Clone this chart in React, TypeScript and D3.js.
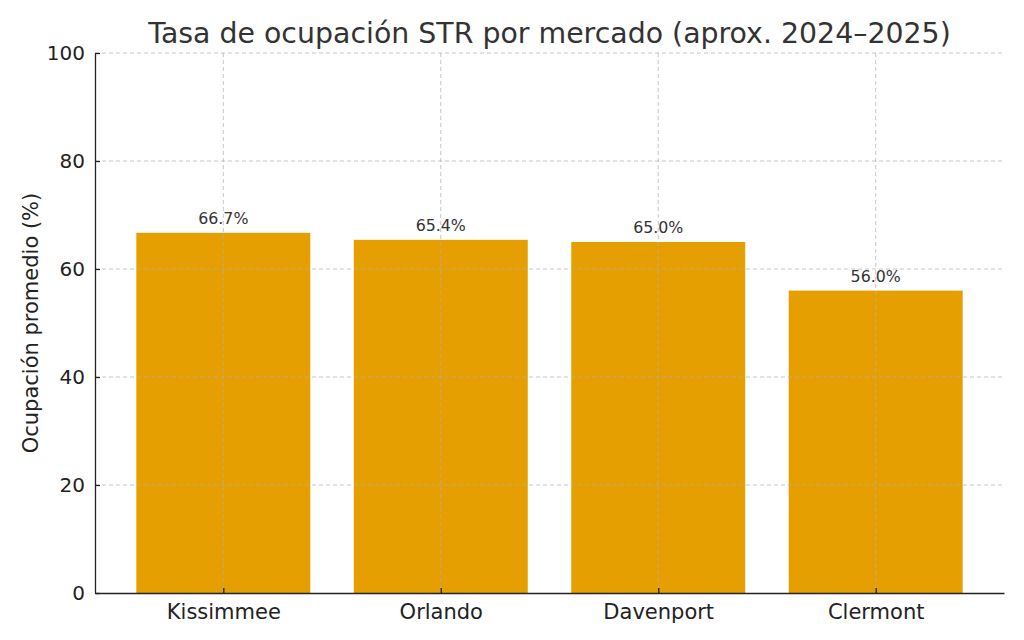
import { useEffect, useRef } from 'react';
import * as d3 from 'd3';

const markets = ['Kissimmee', 'Orlando', 'Davenport', 'Clermont'];
const occupancy = [66.7, 65.4, 65.0, 56.0];
const yTicks = [0, 20, 40, 60, 80, 100];

const W = 1024;
const H = 640;
const FONT = 'DejaVu Sans, sans-serif';

export default function App() {
  const svgRef = useRef<SVGSVGElement>(null);

  useEffect(() => {
    if (!svgRef.current) return;
    const svg = d3.select(svgRef.current);
    svg.selectAll('*').remove();

    const margin = { top: 53, right: 20, bottom: 47, left: 95 };
    const innerW = W - margin.left - margin.right;
    const innerH = H - margin.top - margin.bottom;

    const g = svg
      .append('g')
      .attr('transform', `translate(${margin.left},${margin.top})`);

    // matplotlib-like linear x: bars width 0.8, 5% margins
    const x = d3.scaleLinear().domain([-0.59, markets.length - 1 + 0.59]).range([0, innerW]);
    const y = d3.scaleLinear().domain([0, 100]).range([innerH, 0]);
    const bw = x(0.8) - x(0);

    // bars
    g.selectAll('rect.bar')
      .data(occupancy)
      .join('rect')
      .attr('class', 'bar')
      .attr('x', (_, i) => x(i - 0.4))
      .attr('y', (d) => y(d))
      .attr('width', bw)
      .attr('height', (d) => innerH - y(d))
      .attr('fill', '#E69F00');

    // grid (drawn on top, like the reference)
    g.selectAll('line.hgrid')
      .data(yTicks.slice(1))
      .join('line')
      .attr('x1', 0)
      .attr('x2', innerW)
      .attr('y1', (d) => y(d))
      .attr('y2', (d) => y(d))
      .attr('stroke', '#b0b0b0')
      .attr('stroke-opacity', 0.8)
      .attr('stroke-dasharray', '4,3')
      .attr('stroke-width', 0.9);

    g.selectAll('line.vgrid')
      .data(markets)
      .join('line')
      .attr('x1', (_, i) => x(i))
      .attr('x2', (_, i) => x(i))
      .attr('y1', 0)
      .attr('y2', innerH)
      .attr('stroke', '#b0b0b0')
      .attr('stroke-opacity', 0.8)
      .attr('stroke-dasharray', '4,3')
      .attr('stroke-width', 0.9);

    // value labels
    g.selectAll('text.val')
      .data(occupancy)
      .join('text')
      .attr('class', 'val')
      .attr('x', (_, i) => x(i))
      .attr('y', (d) => y(d) - 9)
      .attr('text-anchor', 'middle')
      .attr('font-family', FONT)
      .attr('font-size', 15.8)
      .attr('fill', '#333')
      .text((d) => `${d.toFixed(1)}%`);

    // y axis
    const yAxis = g
      .append('g')
      .call(
        d3
          .axisLeft(y)
          .tickValues(yTicks)
          .tickSizeInner(-5)
          .tickSizeOuter(0)
          .tickPadding(10)
      );
    yAxis.select('.domain').attr('stroke', '#222').attr('stroke-width', 1.3);
    yAxis.selectAll('.tick line').attr('stroke', '#222').attr('stroke-width', 1.3);
    yAxis
      .selectAll('text')
      .attr('font-family', FONT)
      .attr('font-size', 20)
      .attr('fill', '#222');

    // x axis
    const xAxis = g
      .append('g')
      .attr('transform', `translate(0,${innerH})`)
      .call(
        d3
          .axisBottom(x)
          .tickValues(d3.range(markets.length))
          .tickFormat((i) => markets[+i])
          .tickSizeInner(-5)
          .tickSizeOuter(0)
          .tickPadding(11)
      );
    xAxis.select('.domain').attr('stroke', '#222').attr('stroke-width', 1.3);
    xAxis.selectAll('.tick line').attr('stroke', '#222').attr('stroke-width', 1.3);
    xAxis
      .selectAll('text')
      .attr('font-family', FONT)
      .attr('font-size', 21)
      .attr('fill', '#222');
    svg.selectAll('.domain').attr('fill', 'none');

    // title
    svg
      .append('text')
      .attr('x', margin.left + innerW / 2)
      .attr('y', 43)
      .attr('text-anchor', 'middle')
      .attr('font-family', FONT)
      .attr('font-size', 28.4)
      .attr('fill', '#333')
      .text('Tasa de ocupación STR por mercado (aprox. 2024–2025)');

    // y label
    svg
      .append('text')
      .attr('transform', `translate(38,${margin.top + innerH / 2}) rotate(-90)`)
      .attr('text-anchor', 'middle')
      .attr('font-family', FONT)
      .attr('font-size', 21)
      .attr('fill', '#222')
      .text('Ocupación promedio (%)');
  }, []);

  return (
    <div style={{ position: 'absolute', left: 0, top: 0 }}>
      <svg ref={svgRef} width={W} height={H} style={{ display: 'block', background: '#fff' }} />
    </div>
  );
}
